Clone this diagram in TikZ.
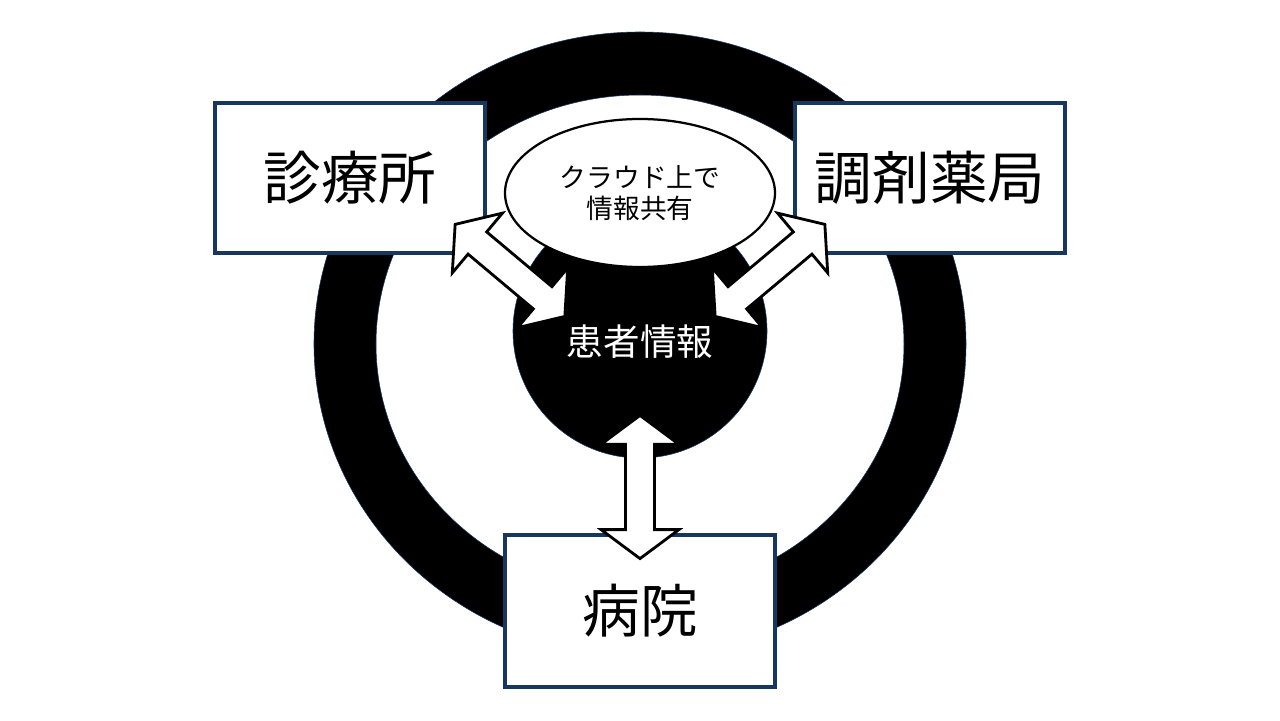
\documentclass[tikz,border=0pt]{standalone}
\usepackage{fontspec}
\newfontfamily\jp{Noto Sans CJK JP}
\usetikzlibrary{shapes.geometric}
\definecolor{boxline}{RGB}{23,55,94}
\tikzset{
  place/.style={draw=boxline,line width=2.3pt,fill=white,minimum width=6.75cm,minimum height=3.75cm,inner sep=0pt,font=\jp\fontsize{41}{49}\selectfont},
  blob/.style={fill=black,draw=boxline,line width=0.4pt},
  arrowline/.style={draw=black,fill=white,line width=2pt},
  dblarrow/.pic={
    \draw[arrowline](-1.79,0)--(-1.065,0.975)--(-1.065,0.3625)--(1.065,0.3625)--(1.065,0.975)
      --(1.79,0)--(1.065,-0.975)--(1.065,-0.3625)--(-1.065,-0.3625)--(-1.065,-0.975)--cycle;
  }
}
\begin{document}
\begin{tikzpicture}
\useasboundingbox(0,0)rectangle(32,18);
\fill[white](0,0)rectangle(32,18);
%ring
\filldraw[blob,even odd rule](16,9.4)ellipse[x radius=8.15,y radius=7.8]ellipse[x radius=6.6,y radius=6.225];
%places
\node[place](clinic)at(8.75,13.55){診療所};
\node[place](pharmacy)at(23.25,13.55){調剤薬局};
\node[place,minimum height=3.8cm](hospital)at(16,2.725){病院};
%patient data and cloud
\filldraw[blob](16,9.725)circle(3.175);
\node[font=\jp\fontsize{26}{30}\selectfont,text=white](patient)at(16,9.45){患者情報};
\node[ellipse,draw=black,line width=1.6pt,fill=white,minimum width=6.75cm,minimum height=3.7cm,inner sep=0pt,
  align=center,font=\jp\fontsize{19}{22}\selectfont](cloud)at(16,13.175){クラウド上で\\情報共有};
%block arrows
\pic[rotate=-40]at(12.75,11.24){dblarrow};
\pic[rotate=40]at(19.25,11.24){dblarrow};
\pic[rotate=90]at(16,5.825){dblarrow};
\end{tikzpicture}
\end{document}
